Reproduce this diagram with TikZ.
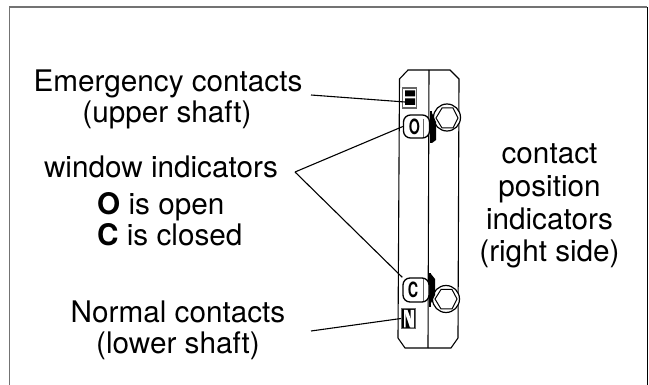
\documentclass[tikz,border=0pt]{standalone}
\usepackage{fontspec}
\setmainfont{TeX Gyre Heros}
\begin{document}
\begin{tikzpicture}[x=1pt,y=-1pt,
  lab/.style={font=\fontsize{29.7}{30}\selectfont,anchor=base,inner sep=0pt},
  labl/.style={lab,anchor=base west},
  leader/.style={line width=1.1pt,black},
  body/.style={line width=1.1pt,black},
  win/.style={line width=1.3pt,rounded corners=7pt,black},
  winlet/.style={font=\bfseries\fontsize{21}{21}\selectfont,inner sep=0pt}]
\useasboundingbox (0,0) rectangle (649,385);
\draw[line width=1.6pt,black!55] (9.5,385) -- (9.5,7) -- (647,7);
\draw[line width=1.3pt,black] (647.5,7) -- (647.5,385);
% labels
\node[lab] (em1) at (168,92) {Emergency contacts};
\node[lab] (em2) at (167,123) {(upper shaft)};
\node[lab] (w1) at (161,178) {window indicators};
\node[labl] (w2) at (97,215) {\textbf{O} is open};
\node[labl] (w3) at (97,246) {\textbf{C} is closed};
\node[lab] (n1) at (178,323) {Normal contacts};
\node[lab] (n2) at (178,354) {(lower shaft)};
\node[lab] (r1) at (549.5,164) {contact};
\node[lab] (r2) at (549.5,197) {position};
\node[lab] (r3) at (549.5,230) {indicators};
\node[lab] (r4) at (549.5,262) {(right side)};
% body
\draw[body] (408,70) -- (450,70) -- (459,79) -- (458,338) -- (451,348) -- (405,348) -- (398,338) -- (399.5,79) -- cycle;
\draw[body] (429,70) -- (428,348);
% upper bolt
\node[circle,draw,line width=1.2pt,minimum size=27pt,inner sep=0pt,fill=white] (bu) at (447,117.5) {};
\draw[line width=1pt] (442,108) -- (453,108) -- (458,118) -- (453,128) -- (442,128) -- (436,118) -- cycle;
\fill (429.5,111) rectangle (432,143);
\fill (432,113) -- (436,122) -- (436,140) -- (432,143) -- cycle;
% lower bolt
\node[circle,draw,line width=1.2pt,minimum size=27pt,inner sep=0pt,fill=white] (bl) at (446,299) {};
\draw[line width=1pt] (441,289.5) -- (452,289.5) -- (457,299) -- (452,309) -- (441,309) -- (435,299) -- cycle;
\fill (429,273) rectangle (431,307);
\fill (431,274) -- (435,279) -- (435,295) -- (431,303) -- cycle;
% E window
\node[draw=black!60,line width=1.2pt,fill=white,minimum width=14pt,minimum height=20pt,inner sep=0pt] (ebox) at (409.5,98) {};
\fill (405,90.5) rectangle (415,96.5) (405,98.5) rectangle (415,105);
\coordinate (etip) at (405,102);
% N window
\node[draw=black!60,line width=1pt,fill=black,minimum width=14pt,minimum height=20pt,inner sep=0pt] (nbox) at (408.5,318.5) {};
\fill[white] (404,310) rectangle (405.5,327.5) (410.5,310) rectangle (414,327.5);
\fill[white] (404,310) -- (407.5,310) -- (414,327.5) -- (410,327.5) -- cycle;
% O and C windows
\node[draw,win,fill=white,minimum width=26pt,minimum height=23pt,inner sep=0pt] (owin) at (416.5,126.5) {};
\draw[black!60,line width=.7pt] (423,119) -- (423,137);
\node[winlet] (olet) at (414.5,126.5) {\scalebox{.68}[1]{O}};
\node[draw,win,fill=white,minimum width=26pt,minimum height=24pt,inner sep=0pt] (cwin) at (416,290) {};
\draw[black!60,line width=.7pt] (423,279) -- (423,301);
\node[winlet] (clet) at (413,290) {\scalebox{.68}[1]{C}};
% leaders
\coordinate (a1) at (311,95);
\coordinate (a2) at (295,172);
\coordinate (a3) at (311,331);
\draw[leader] (a1) -- (etip);
\draw[leader] (a2) -- (owin.west);
\draw[leader] (a2) -- (cwin.north west);
\draw[leader] (a3) -- (nbox.west);
\end{tikzpicture}
\end{document}
